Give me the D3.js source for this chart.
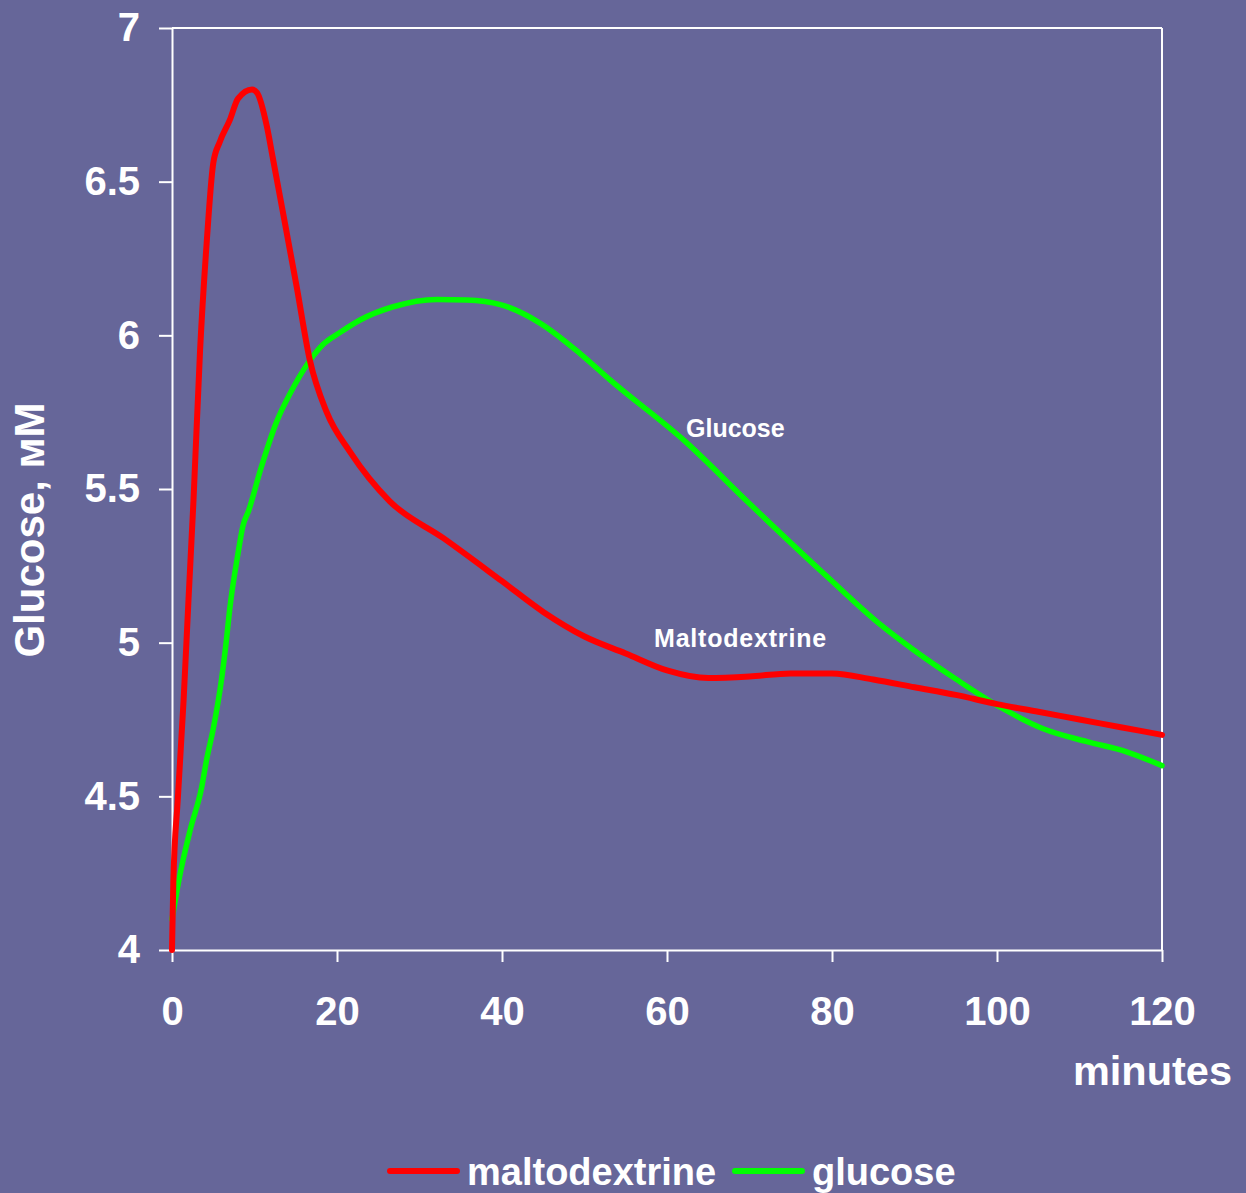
<!DOCTYPE html>
<html>
<head>
<meta charset="utf-8">
<script src="https://cdn.jsdelivr.net/npm/d3@7"></script>
<style>
  html, body { margin: 0; padding: 0; background: #666699; }
  svg { display: block; }
  text { font-family: "Liberation Sans", Arial, sans-serif; font-weight: bold; fill: #ffffff; }
</style>
</head>
<body>
<svg id="chart" width="1246" height="1193"></svg>
<script>
// ---- data ----
const xTicks = [0, 20, 40, 60, 80, 100, 120];
const yTicks = [4, 4.5, 5, 5.5, 6, 6.5, 7];

const maltoTime   = [0, 0.16, 0.7, 1.4, 2.0, 2.6, 3.4, 4.2, 5.0, 5.8, 7.0, 8.0, 9.7, 10.3, 11.5, 12.2, 13.1, 15.1, 16.7, 18.75, 21.6, 26.4, 32.9, 40, 45, 50, 55, 60, 65, 70, 75, 80, 85, 90, 95, 100, 105, 110, 115, 120];
const maltoValues = [4.00, 4.22, 4.49, 4.81, 5.14, 5.46, 5.95, 6.30, 6.56, 6.63, 6.70, 6.77, 6.80, 6.79, 6.68, 6.58, 6.45, 6.16, 5.92, 5.75, 5.62, 5.46, 5.34, 5.20, 5.10, 5.02, 4.965, 4.91, 4.885, 4.89, 4.90, 4.90, 4.88, 4.855, 4.83, 4.80, 4.775, 4.75, 4.725, 4.70];

const glucoseTime   = [0, 1.0, 2.2, 3.6, 4.2, 5.0, 6.0, 6.6, 7.0, 8.0, 8.6, 9.3, 10.7, 12.7, 14.3, 16.5, 18.3, 20.4, 22.8, 26.8, 32.1, 35.7, 39.8, 44.6, 49.5, 53.1, 62.4, 69.7, 79.4, 85.8, 89.9, 95.1, 100.4, 105.6, 110.9, 115.7, 120];
const glucoseValues = [4.10, 4.25, 4.39, 4.53, 4.62, 4.72, 4.88, 5.01, 5.11, 5.29, 5.38, 5.43, 5.56, 5.72, 5.81, 5.91, 5.97, 6.01, 6.05, 6.093, 6.117, 6.115, 6.10, 6.04, 5.94, 5.855, 5.65, 5.46, 5.215, 5.06, 4.976, 4.88, 4.79, 4.72, 4.678, 4.645, 4.60];

const seriesNames  = ["maltodextrine", "glucose"];
const seriesColors = ["#ff0000", "#00ff00"];
const annotations  = ["Maltodextrine", "Glucose"];

// ---- layout ----
const svg = d3.select("#chart");
const plotL = 172, plotR = 1162, plotT = 28, plotB = 950;

const x = d3.scaleLinear().domain([0, 120]).range([plotL, plotR]);
const y = d3.scaleLinear().domain([4, 7]).range([plotB, plotT]);

svg.append("rect").attr("width", 1246).attr("height", 1193).attr("fill", "#666699");

// border lines top & right
svg.append("line").attr("x1", plotL).attr("x2", plotR).attr("y1", plotT).attr("y2", plotT)
  .attr("stroke", "#ffffff").attr("stroke-width", 2);
svg.append("line").attr("x1", plotR).attr("x2", plotR).attr("y1", plotT).attr("y2", plotB)
  .attr("stroke", "#ffffff").attr("stroke-width", 2);

// axes
const yAxis = svg.append("g").attr("transform", `translate(${plotL},0)`)
  .call(d3.axisLeft(y).tickValues(yTicks).tickFormat(d3.format("")).tickSize(13).tickSizeOuter(0).tickPadding(19));
const xAxis = svg.append("g").attr("transform", `translate(0,${plotB})`)
  .call(d3.axisBottom(x).tickValues(xTicks).tickSize(12).tickSizeOuter(0).tickPadding(35));

[yAxis, xAxis].forEach(g => {
  g.select(".domain").attr("stroke", "#ffffff").attr("stroke-width", 2);
  g.selectAll(".tick line").attr("stroke", "#ffffff").attr("stroke-width", 2);
  g.selectAll(".tick text").attr("fill", "#ffffff").style("font-size", "40px")
    .style("font-family", '"Liberation Sans", Arial, sans-serif').style("font-weight", "bold");
});

// lines
const line = d3.line().x(d => x(d[0])).y(d => y(d[1])).curve(d3.curveMonotoneX);
const maltoData = maltoTime.map((t, i) => [t, maltoValues[i]]);
const glucoseData = glucoseTime.map((t, i) => [t, glucoseValues[i]]);

svg.append("path").datum(glucoseData).attr("d", line).attr("fill", "none")
  .attr("stroke", seriesColors[1]).attr("stroke-width", 5.5)
  .attr("stroke-linejoin", "round").attr("stroke-linecap", "round");
svg.append("path").datum(maltoData).attr("d", line).attr("fill", "none")
  .attr("stroke", seriesColors[0]).attr("stroke-width", 6)
  .attr("stroke-linejoin", "round").attr("stroke-linecap", "round");

// annotations
svg.append("text").attr("x", 654).attr("y", 647).style("font-size", "25px")
  .style("letter-spacing", "0.8px").text(annotations[0]);
svg.append("text").attr("x", 686).attr("y", 437).style("font-size", "25px")
  .text(annotations[1]);

// axis titles
svg.append("text").attr("text-anchor", "end").attr("x", 1232).attr("y", 1085)
  .style("font-size", "41.5px").text("minutes");
svg.append("text").attr("text-anchor", "middle")
  .attr("transform", "translate(44,530) rotate(-90)")
  .style("font-size", "42px").text("Glucose, мМ");

// legend
const legendX = [390, 735];
const legendG = svg.append("g");
seriesNames.forEach((name, i) => {
  legendG.append("line").attr("x1", legendX[i]).attr("x2", legendX[i] + 67)
    .attr("y1", 1171).attr("y2", 1171)
    .attr("stroke", seriesColors[i]).attr("stroke-width", 6).attr("stroke-linecap", "round");
  legendG.append("text").attr("x", legendX[i] + 77).attr("y", 1185)
    .style("font-size", "38px").text(name);
});
</script>
</body>
</html>
